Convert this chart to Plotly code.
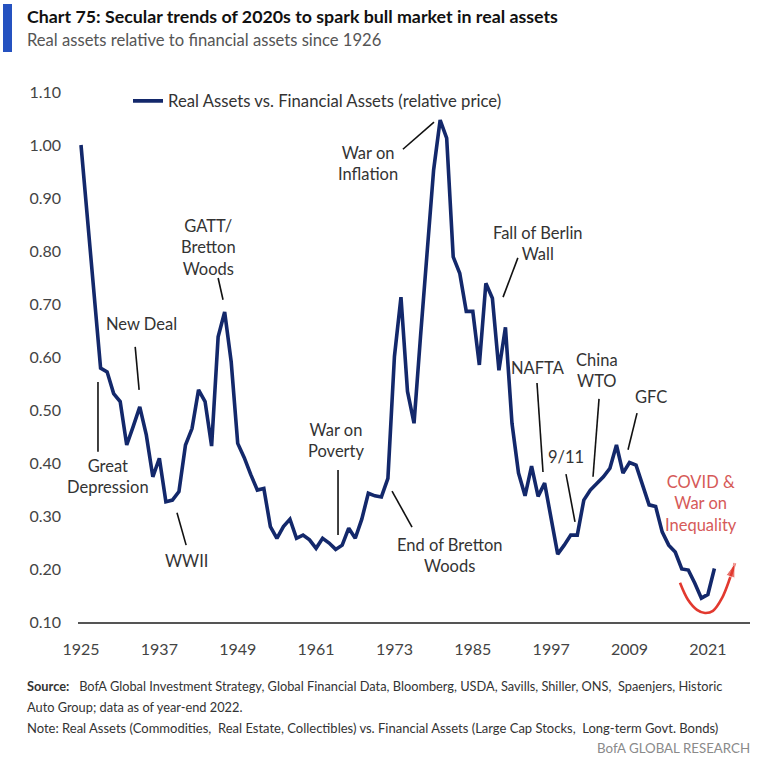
import plotly.graph_objects as go

# ---------------- data ----------------
years = list(range(1925, 2023))
relative_price = [
    1.000, 0.860, 0.720, 0.579, 0.572, 0.531, 0.516, 0.434, 0.469, 0.506,   # 1925-1934
    0.453, 0.374, 0.409, 0.327, 0.330, 0.346, 0.434, 0.465, 0.538, 0.516,   # 1935-1944
    0.432, 0.638, 0.685, 0.591, 0.437, 0.410, 0.378, 0.349, 0.352, 0.280,   # 1945-1954
    0.258, 0.280, 0.294, 0.258, 0.264, 0.255, 0.239, 0.258, 0.249, 0.237,   # 1955-1964
    0.245, 0.277, 0.258, 0.294, 0.343, 0.338, 0.336, 0.371, 0.601, 0.713,   # 1965-1974
    0.535, 0.475, 0.640, 0.800, 0.953, 1.047, 1.013, 0.789, 0.758, 0.686,   # 1975-1984
    0.686, 0.585, 0.739, 0.711, 0.575, 0.656, 0.475, 0.381, 0.338, 0.394,   # 1985-1994
    0.337, 0.362, 0.299, 0.228, 0.245, 0.264, 0.264, 0.330, 0.349, 0.362,   # 1995-2004
    0.374, 0.390, 0.434, 0.381, 0.401, 0.396, 0.358, 0.321, 0.318, 0.270,   # 2005-2014
    0.245, 0.232, 0.200, 0.198, 0.173, 0.145, 0.152, 0.201,                 # 2015-2022
]
series_name = "Real Assets vs. Financial Assets (relative price)"
x_tick_years = [1925, 1937, 1949, 1961, 1973, 1985, 1997, 2009, 2021]
y_tick_values = [0.10, 0.20, 0.30, 0.40, 0.50, 0.60, 0.70, 0.80, 0.90, 1.00, 1.10]

# event labels: text, label position (year, value), leader line (year0, v0, year1, v1)
event_labels = [
    ("Great<br>Depression", 1929.1, 0.374, (1927.6, 0.553, 1927.6, 0.421)),
    ("New Deal", 1934.2, 0.662, (1933.3, 0.619, 1933.9, 0.538)),
    ("WWII", 1941.2, 0.215, (1939.7, 0.306, 1941.1, 0.245)),
    ("GATT/<br>Bretton<br>Woods", 1944.45, 0.806, (1946.0, 0.749, 1946.75, 0.708)),
    ("War on<br>Poverty", 1964.2, 0.442, (1964.36, 0.387, 1964.36, 0.264)),
    ("War on<br>Inflation", 1968.95, 0.965, (1974.3, 0.992, 1979.06, 1.043)),
    ("End of Bretton<br>Woods", 1981.36, 0.225, (1972.63, 0.347, 1975.69, 0.279)),
    ("Fall of Berlin<br>Wall", 1995.0, 0.814, (1991.9, 0.787, 1989.63, 0.713)),
    ("NAFTA", 1995.0, 0.579, (1994.83, 0.551, 1995.75, 0.383)),
    ("9/11", 1999.27, 0.411, (1999.27, 0.379, 2000.65, 0.289)),
    ("China<br>WTO", 2004.02, 0.575, (2004.33, 0.521, 2003.41, 0.374)),
    ("GFC", 2012.29, 0.525, (2010.15, 0.494, 2008.77, 0.425)),
]
covid_label = "COVID &<br>War on<br>Inequality"
covid_label_pos = (2019.95, 0.323)
# red "rebound" arrow path (year, value)
arrow_years = [2016.73, 2017.95, 2019.33, 2020.56, 2021.78, 2023.16, 2024.39, 2025.15]
arrow_values = [0.174, 0.142, 0.123, 0.117, 0.121, 0.145, 0.183, 0.211]

# ---------------- figure ----------------
W, H = 758, 761
L, R, T, B = 78, 8, 92, 139
PW, PH = W - L - R, H - T - B
FONT = "Lato"
NAVY = "#13286b"


def px_x(px):
    return (px - L) / PW


def px_y(py):
    return (H - B - py) / PH


fig = go.Figure()
fig.add_trace(go.Scatter(
    x=years, y=relative_price, mode="lines", name=series_name,
    line=dict(color=NAVY, width=3.6), hoverinfo="x+y",
))
fig.add_trace(go.Scatter(
    x=arrow_years, y=arrow_values, mode="lines+markers", showlegend=False,
    line=dict(color="#e2392f", width=2.6, shape="spline"),
    marker=dict(symbol="arrow", angleref="previous",
                size=[0] * (len(arrow_years) - 1) + [15], color="#e2392f"),
    hoverinfo="skip",
))

annotations = []
shapes = []
for text, lx, ly, (x0, y0, x1, y1) in event_labels:
    annotations.append(dict(x=lx, y=ly, xref="x", yref="y", text=text, showarrow=False,
                            xanchor="center", yanchor="middle", align="center",
                            font=dict(family=FONT, size=16.5, color="#333333")))
    shapes.append(dict(type="line", xref="x", yref="y", x0=x0, y0=y0, x1=x1, y1=y1,
                       line=dict(color="#111111", width=1.6)))

annotations.append(dict(x=covid_label_pos[0], y=covid_label_pos[1], xref="x", yref="y",
                        text=covid_label, showarrow=False, xanchor="center", yanchor="middle",
                        align="center", font=dict(family=FONT, size=16.5, color="#d65a58")))

# title block and footer
annotations += [
    dict(x=px_x(25), y=px_y(16), xref="paper", yref="paper", xanchor="left", yanchor="middle",
         showarrow=False,
         text="<b>Chart 75: Secular trends of 2020s to spark bull market in real assets</b>",
         font=dict(family=FONT, size=17.8, color="#111111")),
    dict(x=px_x(25), y=px_y(40), xref="paper", yref="paper", xanchor="left", yanchor="middle",
         showarrow=False, text="Real assets relative to financial assets since 1926",
         font=dict(family=FONT, size=16.6, color="#555555")),
    dict(x=px_x(25), y=px_y(686), xref="paper", yref="paper", xanchor="left", yanchor="middle",
         showarrow=False,
         text="<b>Source:</b>   BofA Global Investment Strategy, Global Financial Data, Bloomberg, USDA, "
              "Savills, Shiller, ONS,  Spaenjers, Historic",
         font=dict(family=FONT, size=12.8, color="#333333")),
    dict(x=px_x(25), y=px_y(707), xref="paper", yref="paper", xanchor="left", yanchor="middle",
         showarrow=False, text="Auto Group; data as of year-end 2022.",
         font=dict(family=FONT, size=12.8, color="#333333")),
    dict(x=px_x(25), y=px_y(728), xref="paper", yref="paper", xanchor="left", yanchor="middle",
         showarrow=False,
         text="Note: Real Assets (Commodities,  Real Estate, Collectibles) vs. Financial Assets "
              "(Large Cap Stocks,  Long-term Govt. Bonds)",
         font=dict(family=FONT, size=13.0, color="#333333")),
    dict(x=px_x(752), y=px_y(748), xref="paper", yref="paper", xanchor="right", yanchor="middle",
         showarrow=False, text="BofA GLOBAL RESEARCH",
         font=dict(family=FONT, size=13.3, color="#8a8a8a")),
]
shapes.append(dict(type="rect", xref="paper", yref="paper",
                   x0=px_x(3), x1=px_x(12), y0=px_y(52), y1=px_y(4),
                   fillcolor="#2552c0", line=dict(width=0)))

fig.update_layout(
    width=W, height=H,
    margin=dict(l=L, r=R, t=T, b=B, autoexpand=False),
    paper_bgcolor="white", plot_bgcolor="white",
    font=dict(family=FONT, size=16, color="#444444"),
    showlegend=True,
    legend=dict(x=px_x(128), y=px_y(101), xanchor="left", yanchor="middle",
                bgcolor="rgba(0,0,0,0)", font=dict(family=FONT, size=16.7, color="#333333"),
                itemwidth=30),
    annotations=annotations,
    shapes=shapes,
    xaxis=dict(range=[1924.54, 2027.45], tickvals=x_tick_years, showgrid=False, zeroline=False,
               showline=True, linecolor="#555555", linewidth=2, ticks="",
               ticklabelstandoff=12, tickfont=dict(family=FONT, size=16, color="#444444")),
    yaxis=dict(range=[0.10, 1.10], tickvals=y_tick_values, tickformat=".2f", showgrid=False,
               zeroline=False, showline=False, ticks="", ticklabelstandoff=16,
               tickfont=dict(family=FONT, size=16, color="#444444")),
)

fig.write_html("out.html", config={"displayModeBar": False},
               post_script="document.body.style.margin='0';")
